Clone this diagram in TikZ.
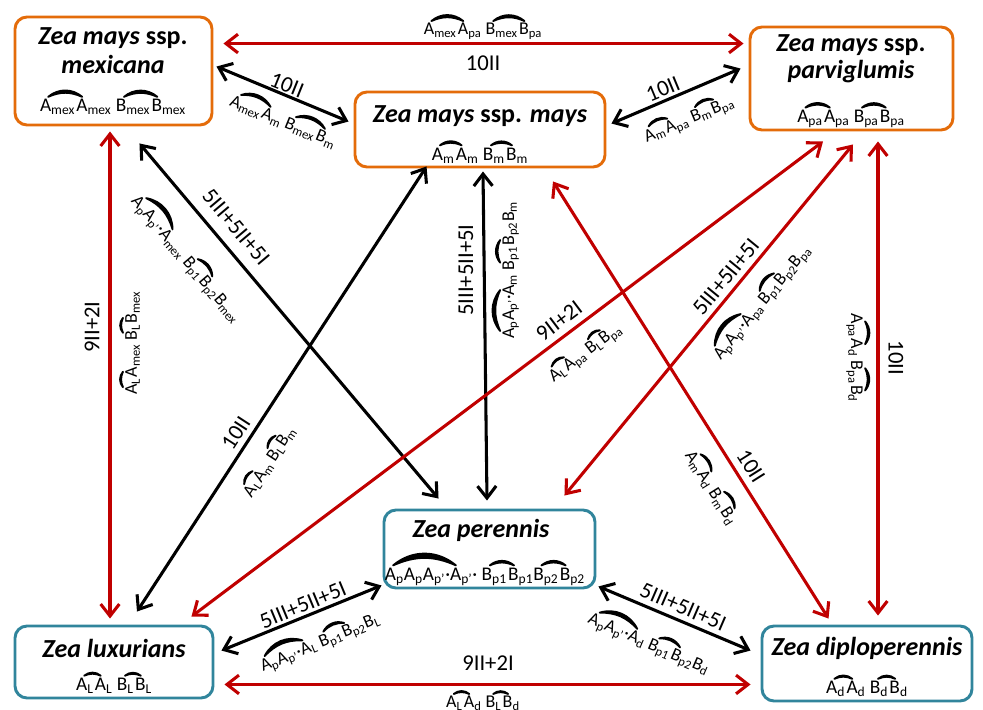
\documentclass[tikz,border=0pt]{standalone}
\usepackage{fontspec}
\setmainfont{Carlito}
\usetikzlibrary{arrows.meta,calc}
\definecolor{boxorange}{HTML}{E46C0A}
\definecolor{boxteal}{HTML}{31859C}
\definecolor{arrred}{HTML}{C00000}
\newcommand{\ssb}[1]{\textsubscript{#1}}
\newcommand{\ttie}[3]{\tikz[baseline=(ta.base)]{%
\node[inner sep=0pt,outer sep=0pt,anchor=base west] (ta) at (0pt,0pt) {#1};%
\node[inner sep=0pt,outer sep=0pt,anchor=base west] (tb) at (ta.base east) {#2};%
\node[inner sep=0pt,outer sep=0pt,anchor=base west] (tc) at (tb.base east) {#3};%
\coordinate (ts) at ([xshift=0.42em,yshift=1.8pt]ta.north west);%
\coordinate (te) at ([xshift=0.3em,yshift=1.8pt]tc.north west);%
\filldraw[line width=1.4pt,line cap=round,line join=round] (ts) to[bend left=40] (te) to[bend right=24] (ts) -- cycle;}}
\begin{document}
\begin{tikzpicture}[x=0.75pt,y=-0.75pt,
 box/.style={draw,line width=2.2pt,rounded corners=9pt,inner sep=0pt,fill=white},
 obox/.style={box,draw=boxorange},
 tbox/.style={box,draw=boxteal},
 title/.style={font=\fontsize{19.5}{22}\selectfont\bfseries\itshape,inner sep=0pt},
 geno/.style={font=\fontsize{14.5}{16}\selectfont,inner sep=0pt},
 num/.style={font=\fontsize{17}{19}\selectfont,inner sep=0pt},
 form/.style={font=\fontsize{13.5}{15}\selectfont,inner sep=0pt},
 blk/.style={line width=2.3pt,{Straight Barb[length=9pt,width=14pt]}-{Straight Barb[length=9pt,width=14pt]}},
 redarr/.style={blk,draw=arrred}]
\useasboundingbox (0,0) rectangle (983,710);
% boxes
\node[obox,minimum width=147.75pt,minimum height=81pt] (mex) at (113.5,71) {};
\node[obox,minimum width=187.5pt,minimum height=56.25pt] (mays) at (480,129.5) {};
\node[obox,minimum width=152.25pt,minimum height=77.25pt] (parv) at (851.5,78.5) {};
\node[tbox,minimum width=158.25pt,minimum height=58.5pt] (per) at (489.5,549) {};
\node[tbox,minimum width=148.5pt,minimum height=54pt] (lux) at (114,662) {};
\node[tbox,minimum width=157.5pt,minimum height=56.25pt] (dip) at (867,663.5) {};
% box texts
\node[title] (mext1) at (113,38) {Zea mays \textup{ssp.}};
\node[title] (mext2) at (113,64) {mexicana};
\node[geno] (mexg) at (113,101) {\ttie{A\ssb{mex}}{}{A\ssb{mex}} \ttie{B\ssb{mex}}{}{B\ssb{mex}}};
\node[title] (mayst) at (480,116) {Zea mays \textup{ssp.} mays};
\node[geno] (maysg) at (480,151) {\ttie{A\ssb{m}}{}{A\ssb{m}} \ttie{B\ssb{m}}{}{B\ssb{m}}};
\node[title] (parvt1) at (851,45) {Zea mays \textup{ssp.}};
\node[title] (parvt2) at (851,72) {parviglumis};
\node[geno] (parvg) at (851,114) {\ttie{A\ssb{pa}}{}{A\ssb{pa}} \ttie{B\ssb{pa}}{}{B\ssb{pa}}};
\node[title] (pert) at (481,530) {Zea perennis};
\node[geno] (perg) at (485,567) {\ttie{A\ssb{p}}{A\ssb{p}A\ssb{p'}·}{A\ssb{p'}·} \ttie{B\ssb{p1}}{}{B\ssb{p1}}\ttie{B\ssb{p2}}{}{B\ssb{p2}}};
\node[title] (luxt) at (114,648) {Zea luxurians};
\node[geno] (luxg) at (114,682) {\ttie{A\ssb{L}}{}{A\ssb{L}} \ttie{B\ssb{L}}{}{B\ssb{L}}};
\node[title] (dipt) at (867,648) {Zea diploperennis};
\node[geno] (dipg) at (867,685) {\ttie{A\ssb{d}}{}{A\ssb{d}} \ttie{B\ssb{d}}{}{B\ssb{d}}};
% arrows
\draw[redarr] ($(mex.north east)+(10,28)$) -- ($(parv.north west)+(-5,18)$);
\draw[blk] ($(mex.north east)+(3,51)$) -- ($(mays.north west)+(-5,31)$);
\draw[blk] ($(mays.north east)+(5,33)$) -- ($(parv.north west)+(-8,43)$);
\draw[redarr] ($(mex.south)+(-3.5,5)$) -- ($(lux.north)+(-4,-6)$);
\draw[blk] ($(mex.south east)+(-74,17)$) -- ($(per.north west)+(56,-10)$);
\draw[blk] ($(mays.south west)+(73,-2)$) -- ($(lux.north)+(23,-13)$);
\draw[blk] ($(mays.south)+(3,3)$) -- ($(per.north)+(-2.5,-8)$);
\draw[redarr] ($(lux.north east)+(-23,-8)$) -- ($(parv.south)+(-28.5,10)$);
\draw[redarr] ($(per.north east)+(-32,-13)$) -- ($(parv.south)+(1.5,13)$);
\draw[redarr] ($(mays.south)+(73,13)$) -- ($(dip.north west)+(68,-6)$);
\draw[redarr] ($(parv.south)+(26.5,10)$) -- ($(dip.north)+(11,-9)$);
\draw[blk] ($(lux.north east)+(7,26)$) -- ($(per.south west)+(-1,-4)$);
\draw[blk] ($(per.south east)+(2,-3)$) -- ($(dip.north west)+(-10,26)$);
\draw[redarr] ($(lux.south east)+(10,-15)$) -- ($(dip.south west)+(-10,-18)$);
% labels
\node[form] (f1) at (483,26) {\ttie{A\ssb{mex}}{}{A\ssb{pa}} \ttie{B\ssb{mex}}{}{B\ssb{pa}}};
\node[num] (n1) at (483,63) {10II};
\node[num,rotate=-22] (n2) at (287,85) {10II};
\node[form,rotate=-22] (f2) at (285,117) {\ttie{A\ssb{mex}}{}{A\ssb{m}} \ttie{B\ssb{mex}}{}{B\ssb{m}}};
\node[num,rotate=22.6] (n3) at (663,89) {10II};
\node[form,rotate=22.6] (f3) at (688,117) {\ttie{A\ssb{m}}{}{A\ssb{pa}} \ttie{B\ssb{m}}{}{B\ssb{pa}}};
\node[num,rotate=90] (n4) at (92,327) {9II+2I};
\node[form,rotate=90] (f4) at (129,343) {\ttie{A\ssb{L}}{}{A\ssb{mex}} \ttie{B\ssb{L}}{}{B\ssb{mex}}};
\node[num,rotate=-49.8] (n5) at (236,227) {5III+5II+5I};
\node[form,rotate=-49.8] (f5) at (190,256) {\ttie{A\ssb{p}}{A\ssb{p'}·}{A\ssb{mex}} \ttie{B\ssb{p1}}{}{B\ssb{p2}}B\ssb{mex}};
\node[num,rotate=57] (n6) at (236,433) {10II};
\node[form,rotate=57] (f6) at (267,460) {\ttie{A\ssb{L}}{}{A\ssb{m}} \ttie{B\ssb{L}}{}{B\ssb{m}}};
\node[num,rotate=90] (n7) at (466,270) {5III+5II+5I};
\node[form,rotate=90] (f7) at (504,270) {\ttie{A\ssb{p}}{A\ssb{p'}·}{A\ssb{m}} \ttie{B\ssb{p1}}{}{B\ssb{p2}}B\ssb{m}};
\node[num,rotate=37] (n8) at (559,321) {9II+2I};
\node[form,rotate=37] (f8) at (584,351) {\ttie{A\ssb{L}}{}{A\ssb{pa}} \ttie{B\ssb{L}}{}{B\ssb{pa}}};
\node[num,rotate=50.7] (n9) at (726,277) {5III+5II+5I};
\node[form,rotate=50.7] (f9) at (758,299) {\ttie{A\ssb{p}}{A\ssb{p'}·}{A\ssb{pa}} \ttie{B\ssb{p1}}{}{B\ssb{p2}}B\ssb{pa}};
\node[num,rotate=-57.8] (n10) at (751,466) {10II};
\node[form,rotate=-57.8] (f10) at (714,486) {\ttie{A\ssb{m}}{}{A\ssb{d}} \ttie{B\ssb{m}}{}{B\ssb{d}}};
\node[num,rotate=-90] (n11) at (896,358) {10II};
\node[form,rotate=-90] (f11) at (859,358) {\ttie{A\ssb{pa}}{}{A\ssb{d}} \ttie{B\ssb{pa}}{}{B\ssb{d}}};
\node[num,rotate=22.6] (n12) at (303,605) {5III+5II+5I};
\node[form,rotate=22.6] (f12) at (318,638) {\ttie{A\ssb{p}}{A\ssb{p'}·}{A\ssb{L}} \ttie{B\ssb{p1}}{}{B\ssb{p2}}B\ssb{L}};
\node[num,rotate=-23.4] (n13) at (683,607) {5III+5II+5I};
\node[form,rotate=-23.4] (f13) at (651,639) {\ttie{A\ssb{p}}{A\ssb{p'}·}{A\ssb{d}} \ttie{B\ssb{p1}}{}{B\ssb{p2}}B\ssb{d}};
\node[num] (n14) at (488,663) {9II+2I};
\node[form] (f14) at (483,700) {\ttie{A\ssb{L}}{}{A\ssb{d}} \ttie{B\ssb{L}}{}{B\ssb{d}}};
\end{tikzpicture}
\end{document}
